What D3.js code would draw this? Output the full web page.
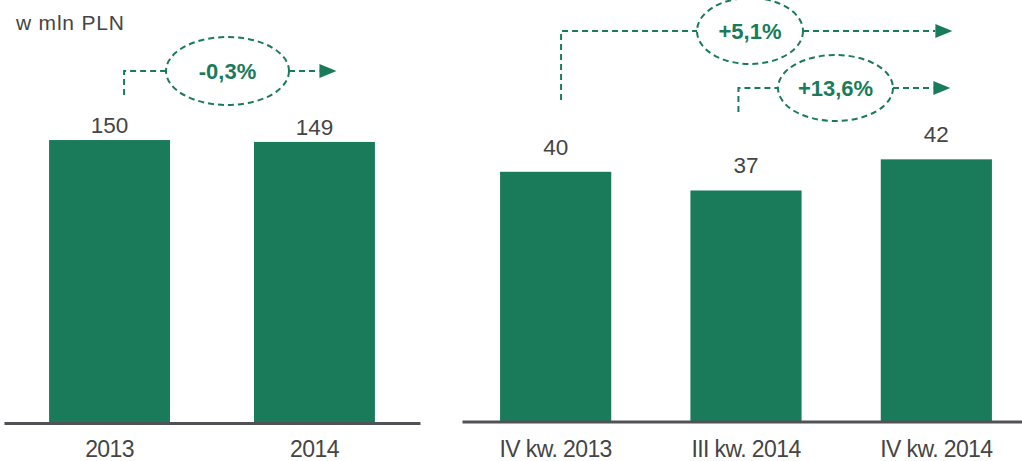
<!DOCTYPE html>
<html><head><meta charset="utf-8">
<script src="https://cdn.jsdelivr.net/npm/d3@7"></script>
<style>
html,body{margin:0;padding:0;background:#fff;}
svg{display:block;font-family:"Liberation Sans",Arial,sans-serif;}
</style></head>
<body>
<svg id="chart" width="1022" height="461"></svg>
<script>
// ---- data ----
const unitLabel = "w mln PLN";
const yearCategories = ["2013", "2014"];
const yearValues = [150, 149];
const quarterCategories = ["IV kw. 2013", "III kw. 2014", "IV kw. 2014"];
const quarterValues = [40, 37, 42];
const yearChangeLabels = ["-0,3%"];
const quarterChangeLabels = ["+5,1%", "+13,6%"];

const GREEN = "#1a7b5a";
const TEXT = "#454545";
const AXIS = "#505256";

const svg = d3.select("#chart");

svg.append("text").attr("x", 16).attr("y", 30)
  .attr("font-size", 21).attr("letter-spacing", 0.8).attr("fill", TEXT).text(unitLabel);

// ---- left panel ----
const xL = d3.scaleBand().domain(yearCategories).range([4, 420]).paddingInner(0.41).paddingOuter(0.22);
const yL = d3.scaleLinear().domain([0, 224.5]).range([422, 0]);

function panel(cats, vals, x, y, baseY, labelGap) {
  const g = svg.append("g");
  g.selectAll("rect").data(vals).join("rect")
    .attr("x", (d, i) => x(cats[i]))
    .attr("width", x.bandwidth())
    .attr("y", d => y(d))
    .attr("height", d => y(0) - y(d))
    .attr("fill", GREEN);
  g.selectAll("text.val").data(vals).join("text").attr("class", "val")
    .attr("x", (d, i) => x(cats[i]) + x.bandwidth() / 2)
    .attr("y", d => y(d) - labelGap)
    .attr("text-anchor", "middle")
    .attr("font-size", 22.5).attr("fill", TEXT)
    .text(d => d);
  const ax = svg.append("g").attr("transform", `translate(0,${baseY})`)
    .call(d3.axisBottom(x).tickSize(0).tickPadding(457 - baseY));
  ax.select(".domain").attr("stroke", AXIS).attr("stroke-width", 3);
  ax.selectAll("text").attr("dy", null).attr("font-size", 23).attr("letter-spacing", -0.6)
    .attr("fill", TEXT)
    .attr("font-family", "'Liberation Sans',Arial,sans-serif");
  return g;
}
panel(yearCategories, yearValues, xL, yL, 423, 7);

// ---- right panel ----
const xR = d3.scaleBand().domain(quarterCategories).range([462, 1030]).paddingInner(0.416).paddingOuter(0.2);
const yR = d3.scaleLinear().domain([0, 421 / 6.23]).range([421, 0]);
panel(quarterCategories, quarterValues, xR, yR, 421.5, 17);

// ---- change annotations ----
function annotation(label, vx, vy0, ly, cx, rx, ry, tipX) {
  const g = svg.append("g").attr("stroke", GREEN).attr("stroke-width", 2)
    .attr("fill", "none").attr("stroke-dasharray", "6,4");
  g.append("path").attr("d", `M${vx},${vy0} V${ly} H${cx - rx}`);
  g.append("path").attr("d", `M${cx + rx},${ly} H${tipX - 17}`);
  g.append("ellipse").attr("cx", cx).attr("cy", ly).attr("rx", rx).attr("ry", ry);
  svg.append("path").attr("d", `M${tipX - 17},${ly - 7} L${tipX},${ly} L${tipX - 17},${ly + 7} Z`)
    .attr("fill", GREEN);
  svg.append("text").attr("x", cx).attr("y", ly + 8)
    .attr("text-anchor", "middle").attr("font-weight", "bold")
    .attr("font-size", 22).attr("fill", GREEN).text(label);
}
const bwL = xL.bandwidth(), bwR = xR.bandwidth();
annotation(yearChangeLabels[0], xL(yearCategories[0]) + 75, 95, 71, 227.5, 61.5, 34,
  xL(yearCategories[1]) + bwL / 2 + 22);
annotation(quarterChangeLabels[0], xR(quarterCategories[0]) + 61, 100, 31, 750, 53, 33,
  xR(quarterCategories[2]) + bwR / 2 + 16);
annotation(quarterChangeLabels[1], xR(quarterCategories[1]) + 48, 112, 88, 835.5, 57.5, 33,
  xR(quarterCategories[2]) + bwR / 2 + 14);
</script>
</body></html>
